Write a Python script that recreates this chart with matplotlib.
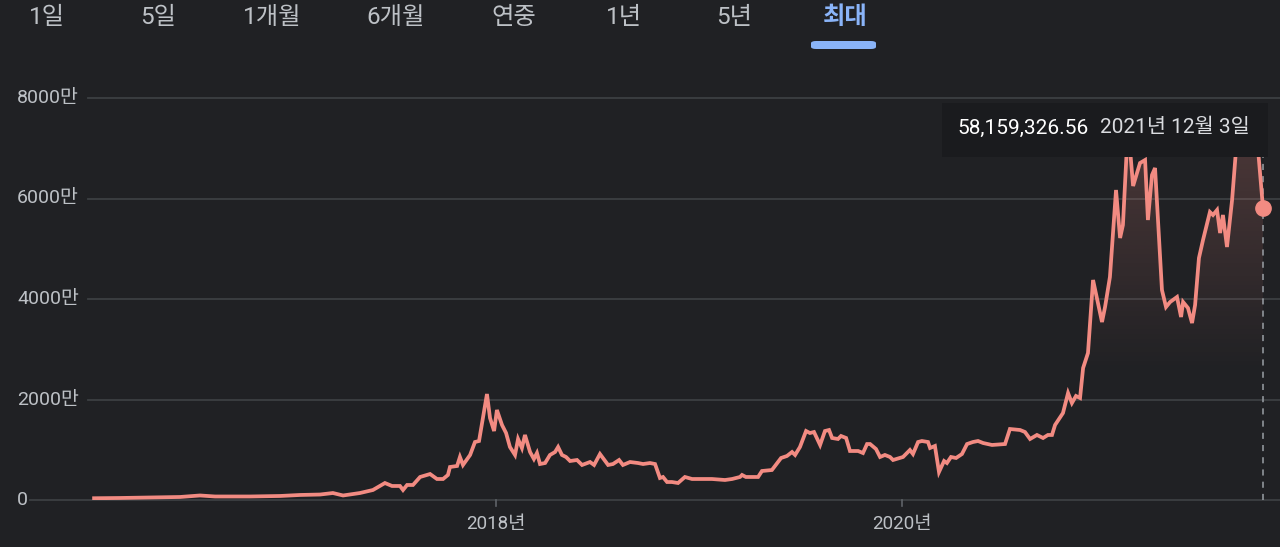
import numpy as np
import matplotlib
matplotlib.use("Agg")
from matplotlib import pyplot as plt
from matplotlib.patches import Rectangle, FancyBboxPatch

# price in 만 KRW, dates as decimal years
dates = [2016.025, 2016.153, 2016.300, 2016.448, 2016.546, 2016.620, 2016.792, 2016.940,
         2017.038, 2017.137, 2017.200, 2017.250, 2017.333, 2017.397, 2017.456, 2017.491,
         2017.530, 2017.545, 2017.565, 2017.594, 2017.629, 2017.678, 2017.712, 2017.742,
         2017.766, 2017.776, 2017.811, 2017.825, 2017.840, 2017.875, 2017.899, 2017.919,
         2017.958, 2017.973, 2017.993, 2018.007, 2018.032, 2018.052, 2018.071, 2018.096,
         2018.111, 2018.130, 2018.145, 2018.170, 2018.189, 2018.204, 2018.219, 2018.244,
         2018.268, 2018.293, 2018.308, 2018.327, 2018.347, 2018.367, 2018.401, 2018.426,
         2018.465, 2018.485, 2018.514, 2018.554, 2018.578, 2018.608, 2018.627, 2018.662,
         2018.701, 2018.726, 2018.760, 2018.785, 2018.809, 2018.824, 2018.844, 2018.868,
         2018.898, 2018.932, 2018.967, 2019.006, 2019.065, 2019.129, 2019.164, 2019.203,
         2019.213, 2019.232, 2019.292, 2019.311, 2019.360, 2019.405, 2019.434, 2019.459,
         2019.474, 2019.498, 2019.528, 2019.547, 2019.567, 2019.597, 2019.621, 2019.641,
         2019.656, 2019.685, 2019.700, 2019.725, 2019.744, 2019.784, 2019.808, 2019.828,
         2019.843, 2019.872, 2019.892, 2019.916, 2019.941, 2019.956, 2020.005, 2020.039,
         2020.054, 2020.079, 2020.098, 2020.128, 2020.138, 2020.162, 2020.182, 2020.207,
         2020.221, 2020.241, 2020.266, 2020.295, 2020.320, 2020.349, 2020.374, 2020.399,
         2020.443, 2020.507, 2020.531, 2020.581, 2020.605, 2020.630, 2020.664, 2020.694,
         2020.718, 2020.738, 2020.753, 2020.792, 2020.817, 2020.836, 2020.856, 2020.876,
         2020.891, 2020.915, 2020.940, 2020.984, 2020.999, 2021.023, 2021.053, 2021.073,
         2021.087, 2021.112, 2021.137, 2021.171, 2021.196, 2021.210, 2021.230, 2021.245,
         2021.279, 2021.299, 2021.319, 2021.353, 2021.373, 2021.383, 2021.407, 2021.427,
         2021.442, 2021.461, 2021.481, 2021.515, 2021.530, 2021.550, 2021.565, 2021.579,
         2021.599, 2021.624, 2021.653, 2021.702, 2021.752, 2021.776]
prices = [35, 40, 50, 60, 90, 70, 70, 80,
          100, 109, 139, 90, 139, 199, 338, 279,
          279, 199, 299, 299, 458, 517, 418, 418,
          498, 657, 677, 856, 697, 896, 1154, 1174,
          2109, 1632, 1373, 1791, 1493, 1333, 1055, 896,
          1214, 1035, 1294, 955, 816, 935, 716, 736,
          896, 955, 1055, 896, 856, 776, 796, 697,
          756, 697, 915, 697, 716, 796, 697, 756,
          736, 716, 736, 716, 438, 458, 358, 358,
          338, 458, 418, 418, 418, 398, 418, 458,
          498, 458, 458, 577, 597, 836, 876, 955,
          896, 1055, 1373, 1333, 1353, 1095, 1373, 1393,
          1234, 1214, 1274, 1234, 975, 975, 935, 1114,
          1114, 1015, 856, 896, 856, 796, 856, 995,
          915, 1154, 1174, 1154, 1035, 1075, 557, 776,
          736, 856, 836, 915, 1114, 1154, 1174, 1134,
          1095, 1114, 1413, 1393, 1353, 1214, 1294, 1234,
          1294, 1294, 1493, 1731, 2129, 1930, 2070, 2030,
          2627, 2925, 4378, 3542, 3841, 4438, 6169, 5214,
          5473, 7463, 6249, 6706, 6766, 5572, 6468, 6607,
          4179, 3841, 3940, 4040, 3642, 3940, 3821, 3522,
          3881, 4816, 5174, 5731, 5672, 5771, 5313, 5672,
          5035, 5970, 7463, 7721, 6965, 5815.93]

tabs = ["1일", "5일", "1개월", "6개월", "연중", "1년", "5년", "최대"]
tab_x = [47, 158, 272, 396, 514, 624, 734, 845]
yticks = [0, 2000, 4000, 6000, 8000]
ylabels = ["0", "2000만", "4000만", "6000만", "8000만"]
xticks = [2018, 2020]
xlabels = ["2018년", "2020년"]
tip_value = "58,159,326.56"
tip_date = "2021년 12월 3일"

BG = "#202124"
LINE = "#f28b82"
GRID = "#3c4043"
TXT = "#bdc1c6"
FONT = ["Roboto", "Noto Sans CJK KR", "DejaVu Sans"]
plt.rcParams["font.family"] = FONT

W, H = 1280, 547
fig = plt.figure(figsize=(W / 100, H / 100), dpi=100, facecolor=BG)
ax = fig.add_axes([0, (H - 500) / H, 1, 402 / H])
ax.set_facecolor(BG)
px_per_year = 203.25
ax.set_xlim(2018 - 495.5 / px_per_year, 2018 + (W - 495.5) / px_per_year)
ax.set_ylim(0, 8000)
for s in ax.spines.values():
    s.set_visible(False)
ax.set_xticks([])
ax.set_yticks([])

# gridlines + y labels
for v, lab in zip(yticks, ylabels):
    start = 30 if v == 0 else 88
    ax.axhline(v, xmin=start / W, xmax=1, color=GRID, lw=1.3, zorder=1, clip_on=False)
    ax.text(17 / W, v, lab, transform=ax.get_yaxis_transform(), ha="left", va="center",
            color=TXT, fontsize=14, zorder=2)

# x ticks + labels
for xv, lab in zip(xticks, xlabels):
    ax.plot([xv, xv], [0, -120], color="#5f6368", lw=1.2, clip_on=False, zorder=1)
    ax.text(xv, -470, lab, ha="center", va="center", color=TXT, fontsize=13.5, clip_on=False)

x = np.array(dates)
y = np.array(prices)

# gradient fill under the line
poly = ax.fill_between(x, y, 0, color="none", lw=0)
grad = np.zeros((200, 2, 4))
grad[..., :3] = matplotlib.colors.to_rgb(LINE)
alpha = np.clip((np.linspace(0, 8000, 200) - 2500) / 5000, 0, 1) * 0.22
grad[..., 3] = alpha[:, None]
im = ax.imshow(grad, extent=[x[0], x[-1], 0, 8000], origin="lower", aspect="auto", zorder=2)
im.set_clip_path(poly.get_paths()[0], transform=ax.transData)

# dashed cursor line
tip_bottom = (500 - 157) / 402
ax.axvline(x[-1], ymin=0, ymax=tip_bottom, color="#9aa0a6", lw=1.1, ls=(0, (4, 4)), zorder=3)

ax.plot(x, y, color=LINE, lw=2.7, zorder=4, solid_joinstyle="miter")
ax.plot(x[-1], y[-1], "o", color=LINE, ms=11, zorder=5)

# tooltip box
tip = Rectangle((942 / W, 1 - 157 / H), (1268 - 942) / W, (157 - 103) / H,
                transform=fig.transFigure, facecolor="#1a1b1e", edgecolor="none", zorder=10)
fig.add_artist(tip)
fig.text(957 / W, 1 - 128 / H, tip_value, color="white", fontsize=15, va="center", ha="left", zorder=11)
fig.text(1100 / W, 1 - 128 / H, tip_date, color="#dadce0", fontsize=15, va="center", ha="left", zorder=11)

# range tabs
for lab, tx in zip(tabs, tab_x):
    sel = lab == "최대"
    fig.text(tx / W, 1 - 18 / H, lab, color="#8ab4f8" if sel else TXT, fontsize=17.5,
             ha="center", va="center", fontweight="bold" if sel else "normal")
pill = FancyBboxPatch((811 / W, 1 - 49 / H), (876 - 811) / W, 8 / H,
                      boxstyle="round,pad=0,rounding_size=0.004", transform=fig.transFigure,
                      facecolor="#8ab4f8", edgecolor="none")
fig.add_artist(pill)

fig.savefig("out.png", dpi=100, facecolor=BG)
